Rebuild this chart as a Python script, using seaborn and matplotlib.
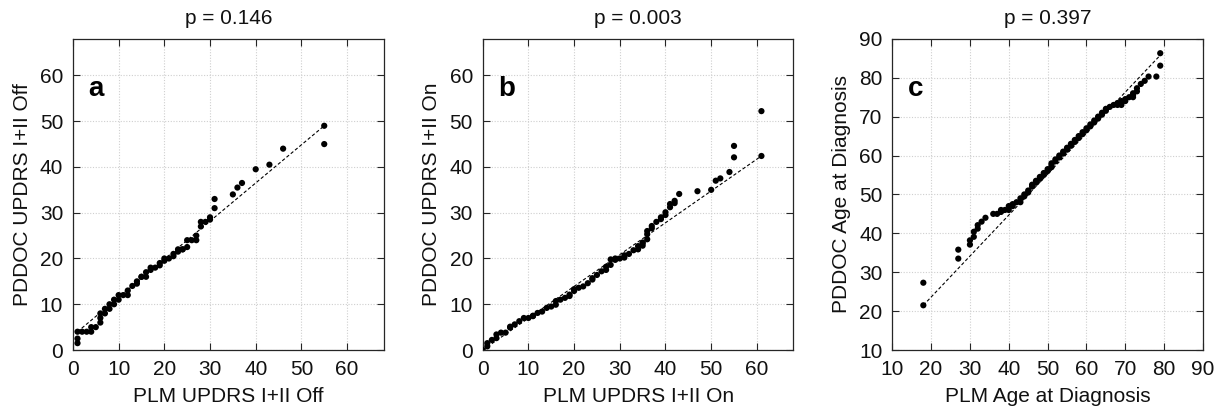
import numpy as np
import pandas as pd
import matplotlib
matplotlib.use("Agg")
import matplotlib.pyplot as plt
import seaborn as sns

# ─── Data (quantile pairs) ───────────────────────────────────────────────────
a_plm = [1, 1, 1, 2, 3, 4, 4, 5, 6, 6, 6, 7, 7, 8, 8, 9, 9, 10, 10, 11, 12, 12,
         13, 14, 14, 15, 15, 16, 16, 17, 17, 18, 19, 19, 20, 20, 21, 22, 22, 23,
         23, 24, 24, 25, 25, 26, 27, 27, 28, 28, 29, 30, 30, 31, 31, 35, 36, 37,
         40, 43, 46, 55, 55]
a_pddoc = [1.5, 2.5, 4, 4, 4, 4, 5, 5, 6, 7, 8, 8, 9, 9, 10, 10, 11, 11, 12, 12,
           12, 13, 14, 14.5, 15, 16, 16, 16, 17, 17.5, 18, 18, 18.5, 19, 19.5,
           20, 20, 20.5, 21, 21.5, 22, 22, 22, 22.5, 24, 24, 24, 25, 27, 28, 28,
           28.5, 29, 31, 33, 34, 35.5, 36.5, 39.5, 40.5, 44, 45, 49]
a_line_x = [1, 55]
a_line_y = [4, 49]

b_plm = [0, 1, 1, 2, 3, 3, 4, 5, 6, 6, 7, 8, 9, 10, 11, 11, 12, 13, 14, 15, 16,
         16, 17, 18, 19, 19, 20, 20, 21, 22, 23, 24, 24, 25, 26, 27, 27, 28, 28,
         29, 29, 30, 31, 31, 32, 33, 34, 34, 35, 35, 35, 36, 36, 36, 37, 37, 38,
         39, 39, 40, 40, 41, 41, 42, 42, 43, 47, 50, 51, 52, 54, 55, 55, 61, 61]
b_pddoc = [0, 0.8, 1.5, 2.2, 2.6, 3.4, 3.8, 3.8, 4.9, 5.1, 5.6, 6.3, 7, 7, 7.4,
           7.5, 8.1, 8.4, 9.2, 9.5, 9.9, 10.7, 11, 11.4, 11.8, 12.1, 12.9, 13.3,
           13.6, 13.9, 14.6, 15.4, 15.7, 16.4, 17.2, 17.5, 18.2, 18.6, 19.8,
           19.7, 20, 20, 20.2, 20.7, 21, 21.8, 22, 22.7, 22.8, 23.3, 23.5, 24.2,
           25.3, 26, 26.6, 27.1, 28, 28.6, 29, 29.5, 30.1, 31.2, 31.9, 32.1,
           32.6, 34.1, 34.7, 35, 37, 37.5, 38.9, 42.1, 44.6, 42.4, 52.2]
b_line_x = [0, 61]
b_line_y = [0, 42.4]

c_plm = [18, 18, 27, 27, 30, 30, 31, 31, 32, 32, 33, 34, 36, 37, 38, 38, 39, 40,
         40, 41, 41, 42, 43, 43, 44, 44, 45, 45, 46, 46, 47, 47, 48, 48, 49, 49,
         50, 50, 51, 51, 51, 52, 52, 53, 53, 54, 54, 55, 55, 56, 56, 57, 57, 58,
         58, 59, 59, 60, 60, 61, 61, 62, 62, 63, 63, 64, 64, 65, 65, 66, 67, 68,
         68, 69, 69, 70, 70, 71, 72, 72, 72, 73, 73, 74, 75, 76, 78, 79, 79]
c_pddoc = [21.5, 27.3, 33.5, 35.8, 37.1, 38.2, 39.1, 40.4, 41.2, 42.1, 43, 44,
           45, 45, 45.5, 46, 46, 46, 47, 47, 47.5, 48, 48, 49, 49.5, 50, 50.5, 51,
           52, 52.5, 53, 53.5, 54, 54.5, 55, 55.5, 56, 56.5, 57, 57.5, 58, 58.5,
           59, 59.5, 60, 60.5, 61, 61.5, 62, 62.5, 63, 63.5, 64, 64.5, 65, 65.5,
           66, 66.5, 67, 67.5, 68, 68.5, 69, 69.5, 70, 70.5, 71, 71.5, 72, 72.5,
           73, 73, 73.5, 73, 74, 74, 74.5, 75, 75, 75.5, 76, 76.5, 77.3, 78.4,
           79.2, 80.3, 80.3, 83.1, 86.3]
c_line_x = [18, 79.5]
c_line_y = [21.5, 86.3]

panels = [
    dict(x=a_plm, y=a_pddoc, lx=a_line_x, ly=a_line_y, title="p = 0.146",
         letter="a", xlabel="PLM UPDRS I+II Off", ylabel="PDDOC UPDRS I+II Off",
         lim=(0, 68), ticks=range(0, 61, 10)),
    dict(x=b_plm, y=b_pddoc, lx=b_line_x, ly=b_line_y, title="p = 0.003",
         letter="b", xlabel="PLM UPDRS I+II On", ylabel="PDDOC UPDRS I+II On",
         lim=(0, 68), ticks=range(0, 61, 10)),
    dict(x=c_plm, y=c_pddoc, lx=c_line_x, ly=c_line_y, title="p = 0.397",
         letter="c", xlabel="PLM Age at Diagnosis", ylabel="PDDOC Age at Diagnosis",
         lim=(10, 90), ticks=range(10, 91, 10)),
]

# ─── Style ───────────────────────────────────────────────────────────────────
sns.set_style("ticks")
plt.rcParams["font.family"] = ["Liberation Sans", "DejaVu Sans"]
plt.rcParams.update({
    "axes.edgecolor": "#262626",
    "axes.linewidth": 0.9,
    "text.color": "#111111",
    "axes.labelcolor": "#111111",
    "xtick.labelcolor": "#111111",
    "ytick.labelcolor": "#111111",
})

fig = plt.figure(figsize=(12.28, 4.13), dpi=100)
lefts = [0.0594, 0.3931, 0.7266]

for left, p in zip(lefts, panels):
    ax = fig.add_axes([left, 0.1525, 0.2530, 0.7535])
    df = pd.DataFrame({"plm": p["x"], "pddoc": p["y"]})
    ax.plot(p["lx"], p["ly"], color="black", lw=0.8, dashes=(3, 2), zorder=2)
    sns.scatterplot(data=df, x="plm", y="pddoc", ax=ax, color="black", s=20,
                    edgecolor="none", zorder=3)
    ax.set_xlim(*p["lim"])
    ax.set_ylim(*p["lim"])
    ax.set_xticks(list(p["ticks"]))
    ax.set_yticks(list(p["ticks"]))
    ax.grid(True, color="#cfcfcf", linestyle=(0, (1, 1.5)), linewidth=0.8)
    ax.set_axisbelow(True)
    ax.tick_params(direction="in", top=True, right=True, length=5, width=0.8,
                   labelsize=15, pad=7, color="#262626")
    ax.set_xlabel(p["xlabel"], fontsize=15, labelpad=6)
    ax.set_ylabel(p["ylabel"], fontsize=15, labelpad=6)
    ax.set_title(p["title"], fontsize=15, pad=11)
    ax.text(0.05, 0.815, p["letter"], transform=ax.transAxes, fontsize=20,
            fontweight="bold", ha="left", va="baseline", color="black")
    for sp in ax.spines.values():
        sp.set_visible(True)

fig.savefig("out.png", dpi=100)
